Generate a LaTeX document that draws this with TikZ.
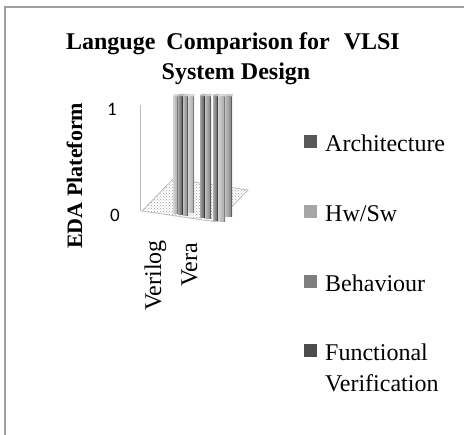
\documentclass[tikz,border=0pt]{standalone}
\usepackage{fontspec}
\setmainfont{Liberation Serif}
\newfontfamily\numfont{Carlito}
\usetikzlibrary{patterns}
\definecolor{serA}{HTML}{595959}
\definecolor{serB}{HTML}{A6A6A6}
\definecolor{serC}{HTML}{7F7F7F}
\definecolor{serD}{HTML}{4D4D4D}
\definecolor{framegray}{HTML}{A0A0A0}
\begin{document}
\begin{tikzpicture}[x=1pt,y=-1pt,
  titletext/.style={font=\fontsize{24}{29}\selectfont\bfseries, inner sep=0pt, anchor=base},
  legtext/.style={font=\fontsize{24}{31}\selectfont, inner sep=0pt, anchor=base west, align=left},
  legbox/.style={minimum size=13pt, inner sep=0pt, draw=none},
  cattext/.style={font=\fontsize{24}{29}\selectfont, inner sep=0pt, anchor=base west, rotate=90},
  numtext/.style={font=\numfont\fontsize{19}{22}\selectfont, inner sep=0pt},
  wallline/.style={draw=gray!55, line width=1pt}]
\useasboundingbox (0,0) rectangle (464,435);
\fill[white] (0,0) rectangle (464,435);
% frame
\draw[framegray, line width=1.5pt] (5,435) -- (5,7) -- (464,7);
% title
\node[titletext] (t1) at (233,50) {Languge\hspace{5pt} Comparison for\hspace{8pt} VLSI};
\node[titletext] (t2) at (236,80) {System Design};
% axis title
\node[font=\fontsize{22}{26}\selectfont\bfseries, inner sep=0pt, anchor=base west, rotate=90] (ytitle) at (82,249) {EDA Plateform};
% numbers
\node[numtext] (n1) at (112,109) {1};
\node[numtext] (n0) at (115,215) {0};
% wall and floor
\coordinate (fa) at (142,211);
\coordinate (fb) at (217,222);
\coordinate (fc) at (248,190);
\coordinate (fd) at (173,179);
\coordinate (wt) at (140,105);
\coordinate (wb) at (140,211);
\draw[wallline] (wt) -- (wb);
\fill[pattern=crosshatch dots, pattern color=gray!75] (fa) -- (fb) -- (fc) -- (fd) -- cycle;
\draw[draw=gray!50, line width=0.8pt] (fa) -- (fb) -- (fc) -- (fd) -- cycle;
% bars (x, width, bottom, colour)
\foreach \bx/\bw/\bb/\bc in {
  173/5/214/serB, 178/5/215/serD, 183/5/216/serC, 188/6/213/serB,
  200/5/218/serD, 205/6/219/serC, 213/5/221/serA, 218/7/222/serB, 225/7/217/serC}{
  \shade[left color=\bc!50!white, right color=\bc] (\bx,96) rectangle ({\bx+\bw},\bb);
  \fill[\bc!75!black] ({\bx+\bw-1.5},97) rectangle ({\bx+\bw},\bb);
  \fill[\bc!40!white] (\bx,96) -- ({\bx+1.5},94) -- ({\bx+\bw+1.5},94) -- ({\bx+\bw},96) -- cycle;
}
% categories
\node[cattext] (c1) at (161,311) {Verilog};
\node[cattext] (c2) at (197,287) {Vera};
% legend
\node[legbox, fill=serA] (l1) at (310.5,141.5) {};
\node[legtext] (lt1) at (325,152) {Architecture};
\node[legbox, fill=serB] (l2) at (310.5,211.5) {};
\node[legtext] (lt2) at (325,222) {Hw/Sw};
\node[legbox, fill=serC] (l3) at (310.5,281.5) {};
\node[legtext] (lt3) at (325,292) {Behaviour};
\node[legbox, fill=serD] (l4) at (310.5,350.5) {};
\node[legtext] (lt4) at (325,361) {Functional};
\node[legtext] (lt5) at (325,392) {Verification};
\end{tikzpicture}
\end{document}
